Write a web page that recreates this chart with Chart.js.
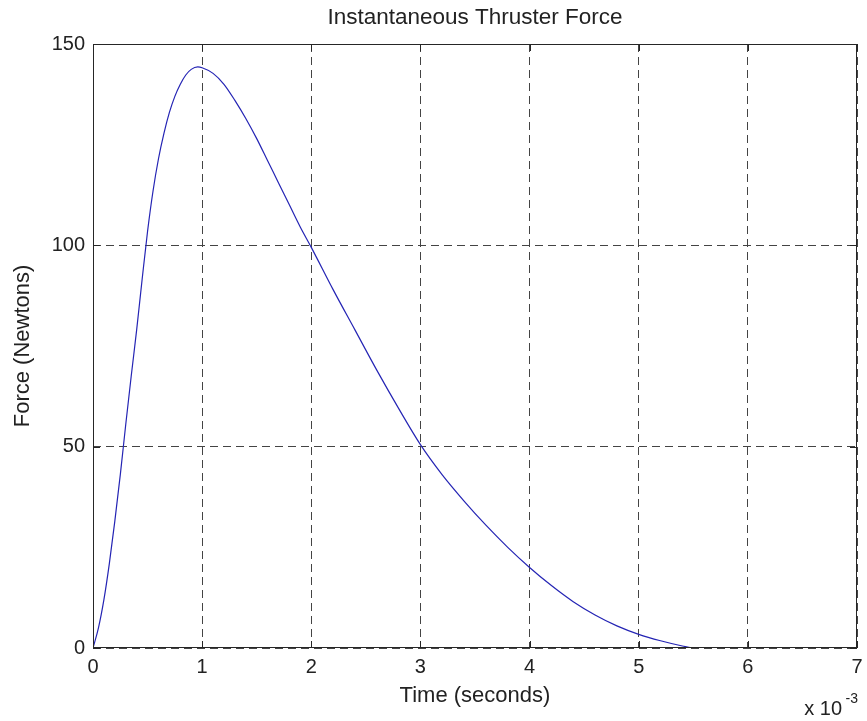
<!DOCTYPE html>
<html>
<head>
<meta charset="utf-8">
<title>Instantaneous Thruster Force</title>
<script src="https://cdn.jsdelivr.net/npm/chart.js@4/dist/chart.umd.min.js"></script>
<style>
  html, body { margin: 0; padding: 0; background: #fff; }
  #wrap { width: 867px; height: 721px; }
</style>
</head>
<body>
<div id="wrap"><canvas id="forceChart" width="867" height="721"></canvas></div>
<script>
// time in units of 10^-3 s
const timeMs = [0, 0.05, 0.1, 0.15, 0.2, 0.25, 0.3, 0.35, 0.4, 0.45, 0.5, 0.55, 0.6, 0.65, 0.7,
    0.75, 0.8, 0.85, 0.9, 0.96, 1.0, 1.1, 1.2, 1.3, 1.4, 1.5, 1.6, 1.7, 1.8, 1.9, 2.0,
    2.2, 2.4, 2.6, 2.8, 3.0, 3.2, 3.4, 3.6, 3.8, 4.0, 4.2, 4.4, 4.6, 4.8, 5.0, 5.2, 5.4, 5.5, 6, 7];
// force in newtons
const forceN = [0, 5, 12, 21, 31.5, 43, 55.5, 67.5, 79, 91.5, 103.5, 113.5, 121.5, 127.8, 133,
    137, 140, 142.3, 143.7, 144.3, 144.1, 142.7, 140, 136, 131.5, 126.5, 121, 115.5, 110, 104.5, 99.5,
    89, 79, 69, 59.5, 50.5, 43, 36.5, 30.5, 25, 20, 15.5, 11.5, 8.2, 5.5, 3.4, 1.8, 0.5, 0, 0, 0];
const xTicks = [0, 1, 2, 3, 4, 5, 6, 7];
const yTicks = [0, 50, 100, 150];

const points = timeMs.map((t, i) => ({ x: t, y: forceN[i] }));
const FONT = "'Liberation Sans', Arial, sans-serif";

// box round the axes, inward tick marks and the "x 10^-3" exponent label
const matlabAxes = {
    id: "matlabAxes",
    afterDraw(chart) {
        const { ctx, chartArea: a, scales } = chart;
        ctx.save();
        ctx.strokeStyle = "#262626";
        ctx.lineWidth = 1;
        ctx.setLineDash([]);
        ctx.strokeRect(a.left + 0.5, a.top + 0.5, a.right - a.left - 1, a.bottom - a.top - 1);
        ctx.beginPath();
        xTicks.forEach(v => {
            const px = Math.round(scales.x.getPixelForValue(v)) + 0.5;
            ctx.moveTo(px, a.bottom); ctx.lineTo(px, a.bottom - 7);
            ctx.moveTo(px, a.top); ctx.lineTo(px, a.top + 7);
        });
        yTicks.forEach(v => {
            const py = Math.round(scales.y.getPixelForValue(v)) + 0.5;
            ctx.moveTo(a.left, py); ctx.lineTo(a.left + 7, py);
            ctx.moveTo(a.right, py); ctx.lineTo(a.right - 7, py);
        });
        ctx.stroke();
        ctx.fillStyle = "#222";
        ctx.textBaseline = "alphabetic";
        ctx.textAlign = "right";
        ctx.font = "14px " + FONT;
        ctx.fillText("-3", a.right + 1, a.bottom + 55);
        ctx.font = "20px " + FONT;
        ctx.fillText("x 10", a.right - 15, a.bottom + 67);
        ctx.restore();
    }
};

const ctx = document.getElementById("forceChart").getContext("2d");
new Chart(ctx, {
    type: "line",
    data: {
        datasets: [{
            label: "Force",
            data: points,
            borderColor: "rgb(36,36,180)",
            borderWidth: 1.2,
            pointRadius: 0,
            fill: false,
            cubicInterpolationMode: "monotone"
        }]
    },
    options: {
        responsive: false,
        animation: false,
        layout: { padding: { top: 0, right: 0, bottom: 0, left: 0 } },
        plugins: {
            legend: { display: false },
            tooltip: { enabled: false },
            title: {
                display: true,
                fullSize: false,
                text: "Instantaneous Thruster Force",
                color: "#222",
                font: { family: FONT, size: 22.5, weight: "normal" },
                padding: { top: 4, bottom: 13 }
            }
        },
        scales: {
            x: {
                type: "linear",
                min: 0,
                max: 7,
                afterBuildTicks: s => { s.ticks = xTicks.map(v => ({ value: v })); },
                afterFit: s => { s.height = 73; s.paddingLeft = 0; s.paddingRight = 10; },
                ticks: {
                    color: "#222",
                    padding: 7,
                    font: { family: FONT, size: 20 }
                },
                grid: {
                    color: "#444",
                    lineWidth: 1,
                    tickLength: 0,
                    drawTicks: false
                },
                border: { display: false, dash: [8, 5] },
                title: {
                    display: true,
                    text: "Time (seconds)",
                    color: "#222",
                    padding: { top: 4, bottom: 12 },
                    font: { family: FONT, size: 22 }
                }
            },
            y: {
                min: 0,
                max: 150,
                afterBuildTicks: s => { s.ticks = yTicks.map(v => ({ value: v })); },
                afterFit: s => { s.width = 93; },
                ticks: {
                    color: "#222",
                    padding: 8,
                    font: { family: FONT, size: 20 }
                },
                grid: {
                    color: "#444",
                    lineWidth: 1,
                    tickLength: 0,
                    drawTicks: false
                },
                border: { display: false, dash: [8, 5] },
                title: {
                    display: true,
                    text: "Force (Newtons)",
                    color: "#222",
                    padding: { top: 10, bottom: 0 },
                    font: { family: FONT, size: 22 }
                }
            }
        }
    },
    plugins: [matlabAxes]
});
</script>
</body>
</html>
